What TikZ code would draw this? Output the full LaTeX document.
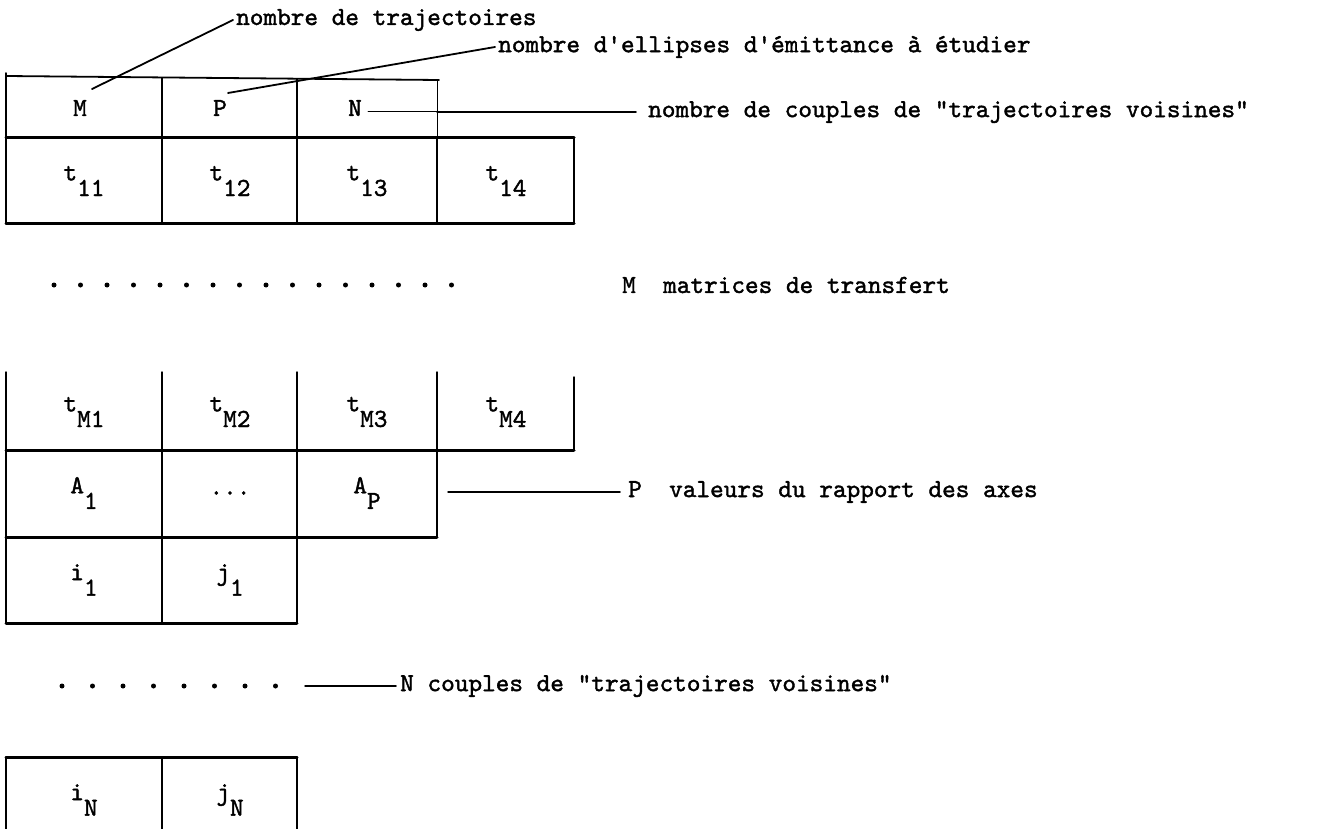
\documentclass[tikz,border=0pt]{standalone}
\usepackage{fontspec}
\newfontfamily\typew{lmmono10-regular.otf}[FakeBold=1.5]
\tikzset{
  heavy/.style={line width=3pt},
  light/.style={line width=1.5pt},
  lead/.style={line width=1.8pt},
  lbl/.style={anchor=west,inner sep=0pt,font=\typew\fontsize{26}{30}\selectfont},
  cell/.style={inner sep=0pt,font=\typew\fontsize{26}{30}\selectfont}
}
\newcommand{\ix}[2]{#1\raisebox{-0.6em}{#2}}
\begin{document}
\begin{tikzpicture}[x=1pt,y=-1pt,line cap=round,line join=round]
 \useasboundingbox (0,0) rectangle (1328,829);
 % labels on the right
 \node[lbl] (ntraj) at (236,20) {nombre de trajectoires};
 \node[lbl] (nell) at (498,47) {nombre d'ellipses d'émittance à étudier};
 \node[lbl] (ncoup) at (648,112) {nombre de couples de "trajectoires voisines"};
 \node[lbl] (mtr) at (622,285) {M\ \ matrices de transfert};
 \node[lbl] (pval) at (628,492) {P\ \ valeurs du rapport des axes};
 \node[lbl] (ncpl) at (400,686) {N couples de "trajectoires voisines"};
 % header M P N
 \draw[lead] (6,76)--(439,80);
 \draw[light] (6,73)--(6,138) (162,78)--(162,138) (297,79)--(297,138);
 \draw[line width=1pt] (437,80)--(437,138);
 \node[cell] (m) at (80,108) {M}; \node[cell] (p) at (220,108) {P};
 \node[cell] (n) at (355,108) {N};
 \coordinate (mend) at (92,89); \coordinate (pend) at (228,93); \coordinate (nend) at (368,112);
 \draw[lead] (mend) -- ([xshift=-3pt]ntraj.west);
 \draw[lead] (pend) -- ([xshift=-3pt]nell.west);
 \draw[line width=1pt] (nend) -- (437,112);
 \draw[light] (437,112) -- ([xshift=-12pt]ncoup.west);
 % first transfer matrix
 \draw[heavy] (6,138)--(574,138) (6,224)--(574,224);
 \foreach \x in {6,162,297,437,574} \draw[light] (\x,138)--(\x,224);
 \foreach \i/\x in {1/84,2/230,3/367,4/506} \node[cell] (t1\i) at (\x,181) {\ix{t}{1\i}};
 \foreach \i in {0,...,15} \fill (54+26.5*\i,285) circle (2.5pt);
 % last transfer matrix
 \foreach \x in {6,162,297,437} \draw[light] (\x,372)--(\x,450);
 \draw[light] (574,377)--(574,450);
 \draw[heavy] (6,450)--(574,450);
 \foreach \i/\x in {1/84,2/230,3/367,4/506} \node[cell] (tm\i) at (\x,412) {\ix{t}{M\i}};
 % axis ratios
 \foreach \x in {6,162,297,437} \draw[light] (\x,450)--(\x,537);
 \draw[heavy] (6,537)--(437,537);
 \node[cell] (a1) at (84,493) {\ix{A}{1}}; \node[cell] (adots) at (230,493) {...};
 \node[cell] (ap) at (367,493) {\ix{A}{P}};
 \coordinate (pl) at (448,492);
 \draw[light] (pl) -- ([xshift=-8pt]pval.west);
 % neighbour pairs
 \foreach \x in {6,162,297} \draw[light] (\x,537)--(\x,623);
 \draw[heavy] (6,623)--(297,623);
 \node[cell] (i1) at (84,580) {\ix{i}{1}}; \node[cell] (j1) at (230,580) {\ix{j}{1}};
 \foreach \i in {0,...,7} \fill (62+30.5*\i,686) circle (2.5pt);
 \coordinate (nl) at (305,686);
 \draw[light] (nl) -- ([xshift=-4pt]ncpl.west);
 \draw[heavy] (6,757)--(297,757);
 \foreach \x in {6,162,297} \draw[light] (\x,757)--(\x,829);
 \node[cell] (iN) at (84,800) {\ix{i}{N}}; \node[cell] (jN) at (230,800) {\ix{j}{N}};
\end{tikzpicture}
\end{document}
